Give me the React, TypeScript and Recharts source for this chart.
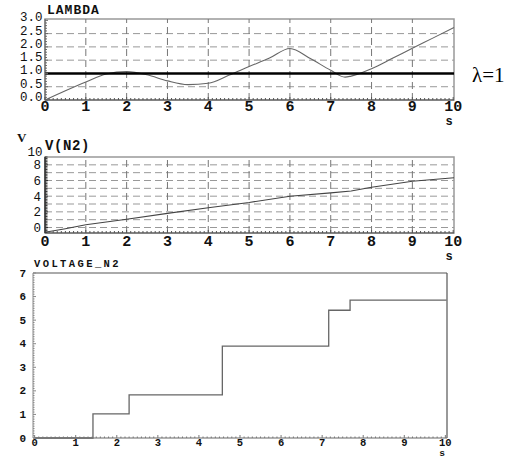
import { LineChart, Line, XAxis, YAxis, ReferenceLine, ReferenceArea } from "recharts";

// LAMBDA curve (top panel)
const lambdaTime = [0, 0.5, 1, 1.5, 2, 2.5, 3, 3.5, 4, 4.5, 5, 5.5, 6, 6.5, 7, 7.35, 7.5, 8, 8.5, 9, 9.5, 10.02];
const lambdaValue = [0, 0.35, 0.68, 0.98, 1.07, 0.95, 0.72, 0.58, 0.63, 0.93, 1.26, 1.58, 1.94, 1.56, 1.12, 0.86, 0.9, 1.18, 1.56, 1.95, 2.33, 2.73];
const lambdaRef = 1;

// V(N2) (middle panel)
const vTime = [0, 0.5, 1, 2, 3, 4, 5, 6, 7, 7.5, 8, 9, 10.02];
const vValue = [-0.6, -0.15, 0.35, 1.06, 1.8, 2.53, 3.2, 4.0, 4.42, 4.67, 5.14, 5.9, 6.36];

// VOLTAGE_N2 staircase (bottom panel)
const stepTime = [0, 1.42, 2.3, 4.57, 7.16, 7.68, 10.03];
const stepValue = [0, 1.02, 1.83, 3.9, 5.42, 5.85, 5.85];

// ticks / grid
const xLabels = [0, 1, 2, 3, 4, 5, 6, 7, 8, 9, 10];
const xGrid = [1, 2, 3, 4, 5, 6, 7, 8, 9];
const lambdaLabels = [0, 0.5, 1, 1.5, 2, 2.5, 3];
const lambdaGrid = [0.5, 1.5, 2, 2.5];
const vLabels = [0, 2, 4, 6, 8];
const vGrid = [0, 1, 2, 3, 4, 5, 6, 7, 8];
const stepLabels = [0, 1, 2, 3, 4, 5, 6, 7];

const range = (a: number, b: number, step: number) => {
  const out: number[] = [];
  const n = Math.round((b - a) / step);
  for (let i = 0; i <= n; i++) out.push(Math.round((a + i * step) * 1000) / 1000);
  return out;
};

const mono = "'Liberation Mono', 'DejaVu Sans Mono', monospace";
const near = (v: number, list: number[]) => list.some((l) => Math.abs(l - v) < 1e-6);

function xTick(labels: number[], fontSize: number, dy: number, minorLen: number, majorLen: number, color: string) {
  return (p: any) => {
    const v = p.payload.value as number;
    const major = near(v, labels);
    return (
      <g>
        <line x1={p.x} x2={p.x} y1={p.y} y2={p.y - (major ? majorLen : minorLen)} stroke={color} strokeWidth={1} />
        {major && (
          <text x={p.x} y={p.y + dy} textAnchor="middle" fontFamily={mono} fontWeight="bold" fontSize={fontSize} fill="#111">
            {v}
          </text>
        )}
      </g>
    );
  };
}

function yTick(labels: number[], fmt: (v: number) => string, fontSize: number, dx: number, dy: number, minorLen: number, majorLen: number, color: string, bold = false) {
  return (p: any) => {
    const v = p.payload.value as number;
    const major = near(v, labels);
    return (
      <g>
        <line x1={p.x} x2={p.x + (major ? majorLen : minorLen)} y1={p.y} y2={p.y} stroke={color} strokeWidth={1} />
        {major && (
          <text x={p.x - dx} y={p.y + dy} textAnchor="end" fontFamily={mono} fontWeight={bold ? "bold" : "normal"} fontSize={fontSize} fill="#111">
            {fmt(v)}
          </text>
        )}
      </g>
    );
  };
}

const lambdaData = lambdaTime.map((t, i) => ({ t, v: lambdaValue[i] }));
const vData = vTime.map((t, i) => ({ t, v: vValue[i] }));
const stepData = stepTime.map((t, i) => ({ t, v: stepValue[i] }));

const gridStroke = "#999";
const dash = "7 4";

export default function App() {
  return (
    <div style={{ position: "absolute", left: 0, top: 0, width: 521, height: 459, background: "#fff" }}>
      <div style={{ position: "absolute", left: 0, top: 0 }}>
        <LineChart width={521} height={125} data={lambdaData} margin={{ top: 19, right: 67, bottom: 0, left: 0 }}>
          <XAxis
            dataKey="t"
            type="number"
            domain={[0, 10.02]}
            ticks={range(0, 10, 0.1)}
            interval={0}
            height={25}
            tickSize={0}
            tickMargin={0}
            tickLine={false}
            axisLine={{ stroke: "#555" }}
            tick={xTick(xLabels, 15, 11, 2, 3, "#555")}
          />
          <YAxis
            type="number"
            domain={[0, 3.05]}
            ticks={range(0, 3, 0.1)}
            interval={0}
            width={45}
            tickSize={0}
            tickMargin={0}
            tickLine={false}
            axisLine={{ stroke: "#666" }}
            tick={yTick(lambdaLabels, (v) => v.toFixed(1), 12.5, 2.5, 1, 2, 3, "#666")}
          />
          <ReferenceArea x1={0} x2={10.02} y1={0} y2={3.05} fill="none" stroke={gridStroke} strokeWidth={1.5} />
          {lambdaGrid.map((g) => (
            <ReferenceLine key={"h" + g} y={g} stroke={gridStroke} strokeDasharray={dash} />
          ))}
          {xGrid.map((g) => (
            <ReferenceLine key={"v" + g} x={g} stroke="#777" strokeDasharray={dash} />
          ))}
          <Line dataKey="v" type="monotone" stroke="#666" strokeWidth={1.1} dot={false} isAnimationActive={false} />
          <ReferenceLine y={lambdaRef} stroke="#000" strokeWidth={2.5} />
        </LineChart>
      </div>

      <div style={{ position: "absolute", left: 0, top: 125 }}>
        <LineChart width={521} height={125} data={vData} margin={{ top: 32, right: 67, bottom: 0, left: 0 }}>
          <XAxis
            dataKey="t"
            type="number"
            domain={[0, 10.02]}
            ticks={range(0, 10, 0.1)}
            interval={0}
            height={17}
            tickSize={0}
            tickMargin={0}
            tickLine={false}
            axisLine={{ stroke: "#555" }}
            tick={xTick(xLabels, 15, 13, 2, 3, "#555")}
          />
          <YAxis
            type="number"
            domain={[-0.7, 9]}
            ticks={range(-0.6, 9, 0.2)}
            interval={0}
            width={45}
            tickSize={0}
            tickMargin={0}
            tickLine={false}
            axisLine={{ stroke: "#333", strokeWidth: 1.5 }}
            tick={yTick(vLabels, (v) => String(v), 12.5, 4, 4.5, 2.5, 3, "#333")}
          />
          <ReferenceArea x1={0} x2={10.02} y1={-0.7} y2={9} fill="none" stroke={gridStroke} strokeWidth={1.5} />
          {vGrid.map((g) => (
            <ReferenceLine key={"h" + g} y={g} stroke={gridStroke} strokeDasharray={dash} />
          ))}
          {xGrid.map((g) => (
            <ReferenceLine key={"v" + g} x={g} stroke="#777" strokeDasharray={dash} />
          ))}
          <Line dataKey="v" type="linear" stroke="#444" strokeWidth={1.1} dot={false} isAnimationActive={false} />
        </LineChart>
      </div>

      <div style={{ position: "absolute", left: 0, top: 250 }}>
        <LineChart width={521} height={209} data={stepData} margin={{ top: 23, right: 74, bottom: 0, left: 0 }}>
          <XAxis
            dataKey="t"
            type="number"
            domain={[-0.04, 10.04]}
            ticks={range(0, 10, 0.1)}
            interval={0}
            height={21}
            tickSize={0}
            tickMargin={0}
            tickLine={false}
            axisLine={{ stroke: "#666" }}
            tick={xTick(xLabels, 10.5, 8, 1.5, 3, "#777")}
          />
          <YAxis
            type="number"
            domain={[0, 7]}
            ticks={range(0, 7, 0.1)}
            interval={0}
            width={33}
            tickSize={0}
            tickMargin={0}
            tickLine={false}
            axisLine={{ stroke: "#888" }}
            tick={yTick(stepLabels, (v) => String(v), 11, 7, 3.5, 1.5, 3, "#888", true)}
          />
          <ReferenceLine y={7} stroke="#aaa" strokeWidth={2} />
          <ReferenceLine x={10.04} stroke="#555" strokeWidth={1.2} />
          <Line dataKey="v" type="stepAfter" stroke="#666" strokeWidth={1.3} dot={false} isAnimationActive={false} />
        </LineChart>
      </div>

      <svg width={521} height={459} style={{ position: "absolute", left: 0, top: 0, pointerEvents: "none" }}>
        <text x={47} y={13.5} fontFamily={mono} fontWeight="bold" fontSize={13} letterSpacing={1} fill="#111">
          LAMBDA
        </text>
        <text x={472} y={82} fontFamily="'Liberation Serif', serif" fontSize={21} fill="#000">
          λ=1
        </text>
        <text x={449} y={125} textAnchor="middle" fontFamily={mono} fontWeight="bold" fontSize={12} fill="#111">
          s
        </text>
        <text x={17} y={142} fontFamily="'Liberation Serif', serif" fontWeight="bold" fontSize={13} fill="#111">
          V
        </text>
        <text x={45} y={150} fontFamily={mono} fontWeight="bold" fontSize={14} letterSpacing={0.6} fill="#111">
          V(N2)
        </text>
        <text x={42.5} y={155.5} textAnchor="end" fontFamily={mono} fontSize={12.5} fill="#111">
          10
        </text>
        <text x={449} y={260} textAnchor="middle" fontFamily={mono} fontWeight="bold" fontSize={12} fill="#111">
          s
        </text>
        <text x={34} y={267} fontFamily={mono} fontWeight="bold" fontSize={10.5} letterSpacing={2.4} fill="#111">
          VOLTAGE_N2
        </text>
        <text x={442} y={456} textAnchor="middle" fontFamily={mono} fontWeight="bold" fontSize={9.5} fill="#111">
          s
        </text>
      </svg>
    </div>
  );
}
